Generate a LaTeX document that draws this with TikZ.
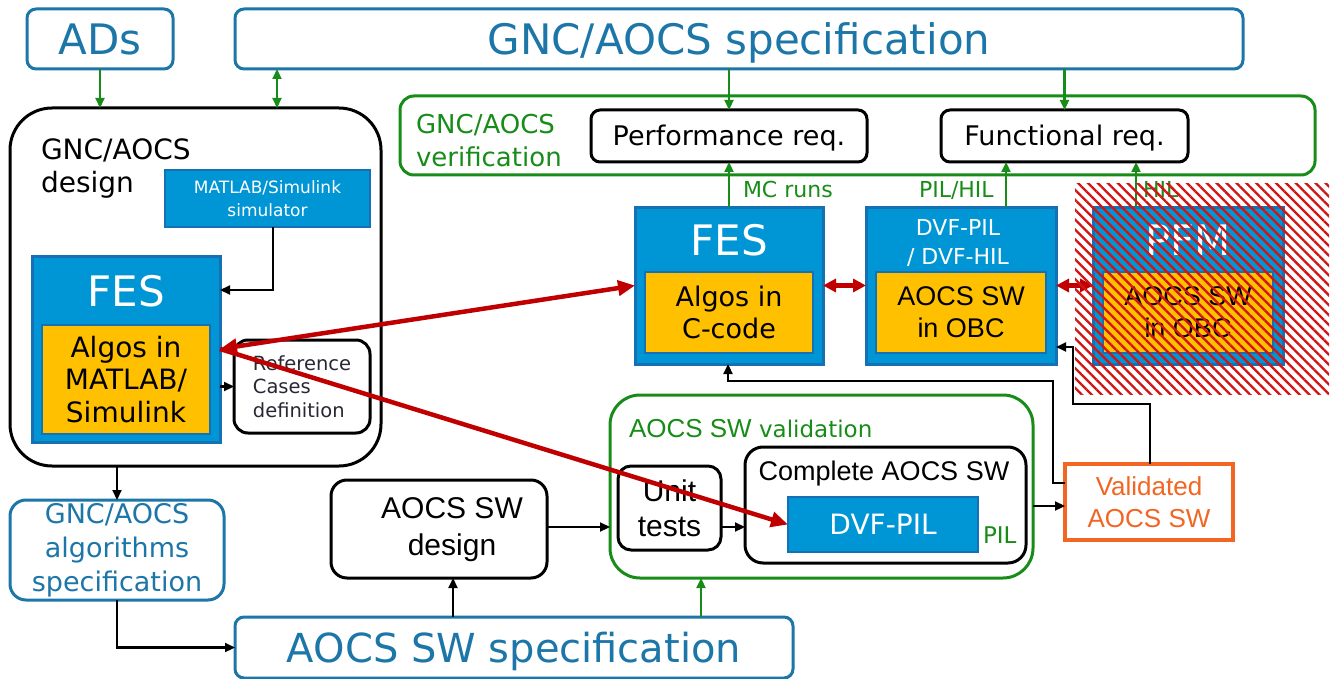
\documentclass[tikz,border=0pt]{standalone}
\usepackage{fontspec}
\setmainfont{DejaVu Sans}
\newfontfamily\arialf{Liberation Sans}
\usetikzlibrary{arrows.meta,patterns.meta}
\definecolor{specblue}{RGB}{28,118,168}
\definecolor{fesblue}{RGB}{0,150,214}
\definecolor{fesedge}{RGB}{22,112,180}
\definecolor{algo}{RGB}{255,192,0}
\definecolor{vgreen}{RGB}{24,140,24}
\definecolor{vorange}{RGB}{242,101,34}
\definecolor{vred}{RGB}{192,0,0}
\definecolor{hred}{RGB}{210,20,20}
\definecolor{refgray}{RGB}{40,40,52}
\newcommand\myfs[2]{\fontsize{#1pt}{#2pt}\selectfont}
\tikzset{
 wh/.style 2 args={minimum width=#1pt, minimum height=#2pt},
 basebox/.style={inner sep=0pt, outer sep=0pt},
 specbox/.style={basebox, draw=specblue, line width=3pt, rounded corners=9pt, text=specblue, fill=white},
 blackbox/.style={basebox, draw=black, line width=3pt, rounded corners=11pt, fill=white},
 greenbox/.style={basebox, draw=vgreen, line width=3pt, rounded corners=14pt},
 fesbox/.style={basebox, draw=fesedge, fill=fesblue, line width=3pt, text=white},
 algobox/.style={basebox, draw=fesedge, fill=algo, line width=1.8pt},
 txt/.style={inner sep=0pt, outer sep=0pt},
 conn/.style={draw=black, line width=2.2pt, -{Triangle[length=10pt,width=9pt]}},
 gconn/.style={draw=vgreen, line width=2.2pt, -{Triangle[length=10pt,width=9pt]}},
 gconnb/.style={draw=vgreen, line width=2.2pt, {Triangle[length=10pt,width=9pt]}-{Triangle[length=10pt,width=9pt]}},
 rarr/.style={draw=vred, line width=4.5pt, -{Triangle[length=17pt,width=15pt]}},
 rarrb/.style={draw=vred, line width=4.5pt, {Triangle[length=17pt,width=15pt]}-{Triangle[length=17pt,width=15pt]}},
 rarrs/.style={draw=vred, line width=4.5pt, {Triangle[length=13pt,width=13pt]}-{Triangle[length=13pt,width=13pt]}},
}
\begin{document}
\begin{tikzpicture}[x=1pt,y=-1pt]
\useasboundingbox (0,0) rectangle (1335,679);

% top specification boxes
\node[specbox, wh={146}{60}, font=\myfs{42}{48}, text height=30.6pt, text depth=0pt] (ads) at (100,39) {ADs};
\node[specbox, wh={1008}{60}, font=\myfs{42}{48}, text height=30.6pt, text depth=0pt] (spec) at (739,39) {GNC/AOCS specification};

% GNC/AOCS design
\node[blackbox, wh={371}{358}, rounded corners=42pt] (design) at (195.5,287) {};
\node[txt, anchor=west, align=left, font=\myfs{28}{33}] (designlbl) at (41,169) {GNC/AOCS\\design};
\node[fesbox, wh={205}{57}, font=\myfs{17}{23}, align=center, line width=1.8pt] (sim) at (267.5,198.5) {MATLAB/Simulink\\simulator};
\node[fesbox, wh={188}{186}] (fesL) at (126,349) {};
\node[txt, text=white, font=\myfs{42}{48}, text height=30.6pt, text depth=0pt] (fesLt) at (126,291) {FES};
\node[algobox, wh={168}{109}, align=center, font=\myfs{28}{32.5}] (algoL) at (126,379.5) {Algos in\\MATLAB/\\Simulink};
\node[blackbox, wh={136}{93}, rounded corners=14pt, align=left, text=refgray, font=\myfs{19.5}{23.5}] (ref) at (302,386.5) {Reference\\Cases\\definition};

% algorithms specification and SW specification
\node[specbox, wh={214}{100}, rounded corners=16pt, align=center, font=\myfs{27}{34}] (algspec) at (117,550) {GNC/AOCS\\algorithms\\specification};
\node[specbox, wh={558}{61}, font=\myfs{40}{46}, text height=29.2pt, text depth=0pt] (swspec) at (514,647.5) {AOCS SW specification};

% SW design
\node[blackbox, wh={216}{98}, rounded corners=16pt] (swdesign) at (439,529) {};
\node[txt, align=center, font=\arialf\myfs{30}{37}] (swdesignt) at (452,530) {AOCS SW\\design};

% validation
\node[greenbox, wh={423}{183}, rounded corners=30pt] (val) at (821.5,486.5) {};
\node[txt, anchor=base west, text=vgreen, font=\myfs{23}{28}] (valt) at (629,437) {{\arialf\myfs{26}{30}AOCS SW} validation};
\node[blackbox, wh={103}{84}, rounded corners=13pt, align=center, font=\arialf\myfs{30}{35}] (unit) at (669.5,508) {Unit\\tests};
\node[blackbox, wh={281}{116}, rounded corners=18pt] (complete) at (885.5,505) {};
\node[txt, anchor=base, font=\arialf\myfs{27}{30}] (completet) at (884,480) {Complete AOCS SW};
\node[fesbox, wh={190}{55}, font=\myfs{28}{32}, text height=20.4pt, text depth=0pt, line width=1.8pt] (dvfpil) at (883,524.5) {DVF-PIL};
\node[txt, anchor=base west, text=vgreen, font=\myfs{23}{28}] (pilt) at (983,543) {PIL};

\node[basebox, draw=vorange, line width=3.2pt, fill=white, wh={168}{76}, align=center, text=vorange, font=\arialf\myfs{26}{32}] (valid) at (1149,502) {Validated\\AOCS SW};

% verification
\node[greenbox, wh={915}{79}, rounded corners=14pt] (verif) at (857.5,135.5) {};
\node[txt, anchor=west, align=left, text=vgreen, font=\myfs{26}{33}] (veriftxt) at (416,141) {GNC/AOCS\\verification};
\node[blackbox, wh={276}{52}, rounded corners=9pt, font=\myfs{27}{32}, text height=19.7pt, text depth=0pt] (perf) at (729,136) {Performance req.};
\node[blackbox, wh={247}{52}, rounded corners=9pt, font=\myfs{27}{32}, text height=19.7pt, text depth=0pt] (func) at (1064.5,136) {Functional req.};

% FES / DVF / PFM
\node[fesbox, wh={188}{157}] (fesM) at (729,285.5) {};
\node[txt, text=white, font=\myfs{42}{48}, text height=30.6pt, text depth=0pt] (fesMt) at (729,240) {FES};
\node[algobox, wh={168}{81}, align=center, font=\myfs{27}{32}] (algoM) at (729,312.5) {Algos in\\C-code};

\node[fesbox, wh={190}{157}] (dvf) at (961,285.5) {};
\node[txt, text=white, align=center, font=\myfs{22}{29}] (dvft) at (958,243) {DVF-PIL\\/ DVF-HIL};
\node[algobox, wh={170}{81}, align=center, font=\arialf\myfs{27}{32}] (obcM) at (961,312.5) {AOCS SW\\in OBC};

\node[fesbox, wh={190}{157}] (pfm) at (1188,285.5) {};
\node[txt, text=white, font=\myfs{42}{48}, text height=30.6pt, text depth=0pt] (pfmt) at (1188,240) {PFM};
\node[algobox, wh={170}{81}, align=center, font=\arialf\myfs{27}{32}] (obcP) at (1188,312.5) {AOCS SW\\in OBC};

% labels
\node[txt, anchor=base west, text=vgreen, font=\myfs{22}{26}] (mcl) at (743,197) {MC runs};
\node[txt, anchor=base west, text=vgreen, font=\myfs{22}{26}] (pill) at (919,197) {PIL/HIL};
\node[txt, anchor=base west, text=vgreen, font=\myfs{22}{26}] (hill) at (1143,197) {HIL};

% green connectors
\coordinate (x277) at (277,0);
\draw[gconnb] (x277 |- spec.south) -- (x277 |- design.north);
\draw[gconn] (ads.south) -- (ads.south |- design.north);
\draw[gconn] (perf.north |- spec.south) -- (perf.north);
\draw[gconn] (func.north |- spec.south) -- (func.north);
\draw[gconn] (fesM.north) -- (perf.south);
\coordinate (x1006) at (1006,0);
\draw[gconn] (x1006 |- dvf.north) -- (x1006 |- func.south);
\coordinate (x1136) at (1136,0);
\draw[gconn] (x1136 |- pfm.north) -- (x1136 |- func.south);
\coordinate (x701) at (701,0);
\draw[gconn] (x701 |- swspec.north) -- (x701 |- val.south);

% black connectors
\coordinate (k1) at (273,290);
\draw[conn] (sim.south -| k1) -- (k1) -- (k1 -| fesL.east);
\draw[conn] (fesL.east |- ref.west) -- (ref.west);
\draw[conn] (algspec.north |- design.south) -- (algspec.north);
\draw[conn] (algspec.south) |- (swspec.west);
\coordinate (x453) at (453,0);
\draw[conn] (x453 |- swspec.north) -- (x453 |- swdesign.south);
\coordinate (y527) at (0,527);
\draw[conn] (swdesign.east |- y527) -- (val.west |- y527);
\draw[conn] (unit.east |- y527) -- (complete.west |- y527);
\coordinate (y506) at (0,506);
\draw[conn] (val.east |- y506) -- (valid.west |- y506);
\coordinate (v1) at (1150,404);
\coordinate (v2) at (1073,404);
\coordinate (v3) at (1073,347);
\draw[conn] (valid.north -| v1) -- (v1) -- (v2) -- (v3) -- (v3 -| dvf.east);
\coordinate (w1) at (1053,483);
\coordinate (w2) at (1053,381);
\coordinate (w3) at (728,381);
\draw[conn] (valid.west |- w1) -- (w1) -- (w2) -- (w3) -- (w3 |- fesM.south);

% red arrows
\draw[rarrs] (fesM.east) -- (dvf.west);
\draw[rarrs] (dvf.east) -- (pfm.west);
\draw[rarrb] (fesL.east) -- (fesM.west);
\draw[rarr] (fesL.east) -- (dvfpil.west);

% hatch over PFM
\fill[pattern={Lines[angle=-45,distance=7pt,line width=2.3pt]}, pattern color=hred] (1075,184) rectangle (1329,394);
\end{tikzpicture}
\end{document}
